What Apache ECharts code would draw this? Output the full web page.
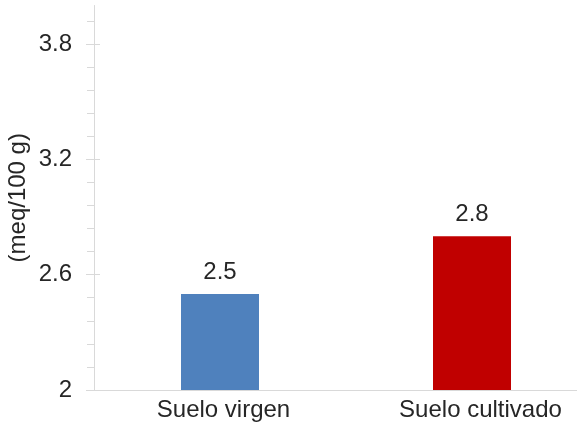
<!DOCTYPE html>
<html>
<head>
<meta charset="utf-8">
<script src="https://cdn.jsdelivr.net/npm/echarts@6/dist/echarts.min.js"></script>
<style>
html,body{margin:0;padding:0;background:#fff;}
#chart{width:577px;height:424px;}
</style>
</head>
<body>
<div id="chart"></div>
<script>
const categories = ['Suelo virgen', 'Suelo cultivado'];
const values = [2.5, 2.8];
const barColors = ['#4f81bd', '#c00000'];
const yAxisName = '(meq/100 g)';
const yMin = 2, yMax = 4, yStep = 0.6, yMinorStep = 0.12;

const FONT = 'Liberation Sans';
const TXT = '#262626';
const AX = '#d9d9d9';
const FS = 24;
const labelShift = [7, 17];

const gLeft = 94, gRight = -21, gTop = 5.5, gBottom = 34, H = 424;
const unit = (H - gTop - gBottom) / (yMax - yMin);
const minorMax = yMin + Math.ceil((yMax - yMin) / yMinorStep - 1e-9) * yMinorStep;
const majorMax = yMin + Math.ceil((yMax - yMin) / yStep - 1e-9) * yStep;
const gridFor = (mx) => ({left: gLeft, right: gRight, bottom: gBottom, top: gTop - (mx - yMax) * unit, containLabel: false, outerBoundsMode: 'none'});

const chart = echarts.init(document.getElementById('chart'), null, {renderer: 'canvas'});
const hiddenX = (gi) => ({type: 'value', gridIndex: gi, show: false});
const rich = {};
categories.forEach((c, i) => { rich['c' + i] = {color: TXT, fontSize: FS, fontFamily: FONT, padding: [0, 0, 0, labelShift[i]]}; });
const option = {
  backgroundColor: '#fff',
  animation: false,
  textStyle: {fontFamily: FONT},
  grid: [
    gridFor(yMax),
    gridFor(minorMax),
    gridFor(majorMax),
    gridFor(majorMax)
  ],
  xAxis: [
    {
      type: 'category', gridIndex: 0, data: categories,
      axisLine: {lineStyle: {color: AX, width: 1}},
      axisTick: {show: false},
      axisLabel: {
        interval: 0, hideOverlap: false,
        color: TXT, fontSize: FS, fontFamily: FONT, margin: 8,
        formatter: (v, i) => '{c' + i + '|' + v + '}', rich: rich
      }
    },
    hiddenX(1), hiddenX(2), hiddenX(3)
  ],
  yAxis: [
    {
      type: 'value', gridIndex: 0, min: yMin, max: yMax,
      name: yAxisName, nameLocation: 'middle', nameGap: 64,
      nameTextStyle: {color: TXT, fontSize: FS, fontFamily: FONT},
      axisLine: {show: true, lineStyle: {color: AX, width: 1}},
      axisTick: {show: false}, axisLabel: {show: false}, splitLine: {show: false}
    },
    {
      type: 'value', gridIndex: 1, min: yMin, max: minorMax, interval: yMinorStep,
      axisLine: {show: false},
      axisTick: {show: true, length: 7, lineStyle: {color: AX, width: 1}},
      axisLabel: {show: false}, splitLine: {show: false}
    },
    {
      type: 'value', gridIndex: 2, min: yMin, max: majorMax, interval: yStep,
      axisLine: {show: false},
      axisTick: {show: true, length: 8, lineStyle: {color: AX, width: 1}},
      axisLabel: {show: true, color: TXT, fontSize: FS, fontFamily: FONT, margin: 22},
      splitLine: {show: false}
    },
    {
      type: 'value', gridIndex: 3, min: yMin, max: majorMax, interval: yStep,
      axisLine: {show: false},
      axisTick: {show: true, inside: true, length: 6, lineStyle: {color: AX, width: 1}},
      axisLabel: {show: false}, splitLine: {show: false}
    }
  ],
  series: [{
    type: 'bar', xAxisIndex: 0, yAxisIndex: 0,
    barWidth: 78,
    data: values.map((v, i) => ({value: v, itemStyle: {color: barColors[i]}})),
    label: {show: true, position: 'top', distance: 10, color: TXT, fontSize: FS, fontFamily: FONT}
  }]
};
chart.setOption(option);
</script>
</body>
</html>
